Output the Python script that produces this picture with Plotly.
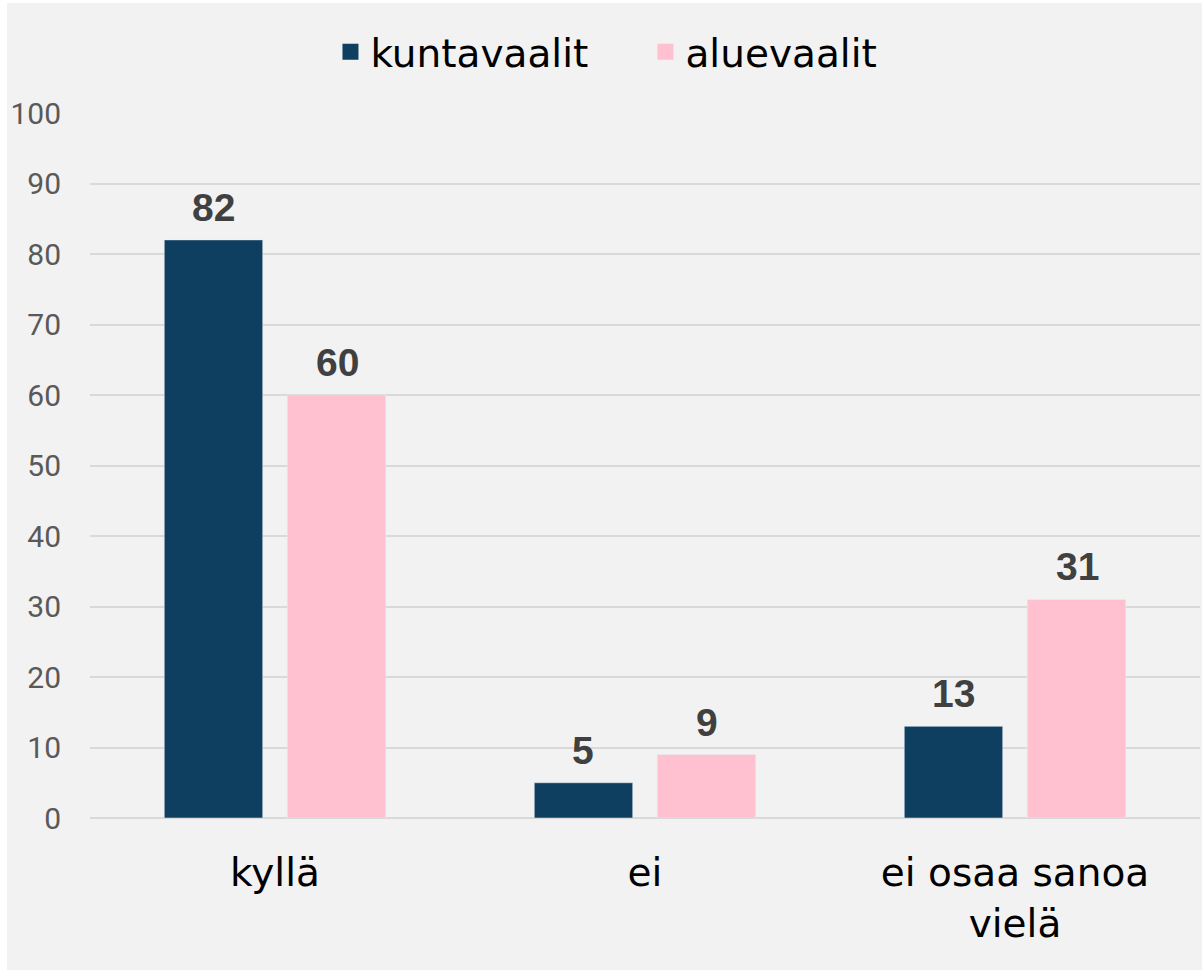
import plotly.graph_objects as go

categories = ["kyllä", "ei", "ei osaa sanoa<br>vielä"]
series_names = ["kuntavaalit", "aluevaalit"]
kuntavaalit = [82, 5, 13]
aluevaalit = [60, 9, 31]
y_ticks = [0, 10, 20, 30, 40, 50, 60, 70, 80, 90, 100]

colors = ["#0F3F60", "#FFC0CF"]
values = [kuntavaalit, aluevaalit]

fig = go.Figure()
for name, vals, col in zip(series_names, values, colors):
    fig.add_trace(go.Bar(x=categories, y=vals, name=name, marker_color=col,
                         showlegend=False, hoverinfo="skip"))
# legend proxies with larger square symbols
for name, col in zip(series_names, colors):
    fig.add_trace(go.Scatter(x=[None], y=[None], mode="markers", name=name,
                             marker=dict(symbol="square", size=20, color=col)))

# data labels
offsets = [-62, 62]
for vals, dx in zip(values, offsets):
    for c, v in zip(categories, vals):
        fig.add_annotation(x=c, y=v, text="<b>%d</b>" % v, showarrow=False,
                           xshift=dx, yshift=9, yanchor="bottom",
                           font=dict(family="Liberation Sans", size=39, color="#404040"))

# background panel (thin white strip on left/top)
fig.add_shape(type="rect", xref="paper", yref="paper",
              x0=(7 - 90) / 1110, x1=1.01, y0=-0.5, y1=(818 - 3) / 705,
              fillcolor="#F2F2F2", line=dict(width=0), layer="below")

fig.update_layout(
    width=1202, height=970,
    margin=dict(l=90, r=2, t=113, b=152),
    paper_bgcolor="white", plot_bgcolor="rgba(0,0,0,0)",
    barmode="group", bargap=0.335, bargroupgap=0.2,
    font=dict(family="DejaVu Sans", color="#000000"),
    legend=dict(orientation="h", x=0.537, xref="container", xanchor="center",
                y=(970 - 52) / 970, yref="container", yanchor="middle",
                font=dict(family="DejaVu Sans", size=39, color="#000000"),
                bgcolor="rgba(0,0,0,0)", itemclick=False,
                entrywidth=270, entrywidthmode="pixels"),
    xaxis=dict(showgrid=False, showline=False, ticks="",
               tickfont=dict(family="DejaVu Sans", size=39, color="#000000"),
               ticklabelstandoff=28),
    yaxis=dict(range=[0, 100], tickvals=y_ticks, showgrid=True,
               gridcolor="#D9D9D9", gridwidth=2, zeroline=True,
               zerolinecolor="#D9D9D9", zerolinewidth=2, showline=False,
               tickfont=dict(family="Roboto", size=30, color="#595959"),
               ticklabelstandoff=28),
)

fig.write_html("out.html", config={"displayModeBar": False},
               post_script="document.body.style.margin='0';")
